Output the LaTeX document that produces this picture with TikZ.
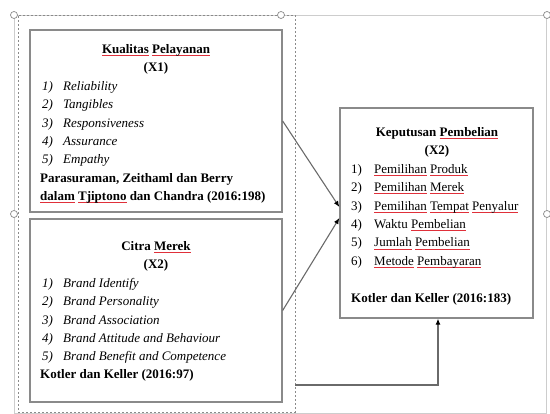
\documentclass[tikz,border=0pt]{standalone}
\usepackage{fontspec}
\setmainfont{Liberation Serif}
\usetikzlibrary{arrows.meta}
\definecolor{boxgray}{HTML}{8A8A8A}
\definecolor{framegray}{HTML}{CDCDCD}
\definecolor{conngray}{HTML}{6A6A6A}
\definecolor{spellred}{HTML}{E0303A}
\newsavebox\rwbox
\newcommand\rw[1]{\sbox\rwbox{#1}\rlap{\textcolor{spellred}{\rule[-2.6pt]{\wd\rwbox}{0.8pt}}}\usebox\rwbox}
\newcommand\itmA[2]{\makebox[21pt][l]{#1}#2}
\newcommand\itmB[2]{\makebox[23pt][l]{#1}#2}
\begin{document}
\begin{tikzpicture}[x=1pt,y=-1pt,
  outerframe/.style={draw=framegray,line width=0.8pt,minimum width=532pt,minimum height=398pt,inner sep=0pt},
  grpframe/.style={draw=boxgray,line width=0.8pt,dash pattern=on 2pt off 2pt,minimum width=277pt,minimum height=397pt,inner sep=0pt},
  boxnode/.style={draw=boxgray,line width=1.3pt,inner sep=0pt},
  conn/.style={draw=conngray,line width=1.1pt},
  tip/.style={-{Latex[length=6pt,width=5pt,color=black]}},
  handle/.style={circle,draw=boxgray,fill=white,line width=0.7pt,minimum size=7pt,inner sep=0pt},
  ttl/.style={anchor=base,inner sep=0pt,font=\fontsize{13}{15}\selectfont\bfseries},
  lineit/.style={anchor=base west,inner sep=0pt,font=\fontsize{13}{15}\selectfont\itshape},
  lineup/.style={anchor=base west,inner sep=0pt,font=\fontsize{13}{15}\selectfont},
  linebf/.style={anchor=base west,inner sep=0pt,font=\fontsize{13}{15}\selectfont\bfseries}]
\useasboundingbox (0,0) rectangle (550,414);
% frames
\node[outerframe] (outer) at (280.5,214) {};
\node[grpframe] (grp) at (156.5,213.5) {};
% boxes
\node[boxnode,minimum width=252pt,minimum height=182pt] (b1) at (156,121) {};
\node[boxnode,minimum width=252pt,minimum height=183pt] (b2) at (156,310.5) {};
\node[boxnode,minimum width=193pt,minimum height=210pt] (b3) at (436.5,213) {};
% box 1 text
\node[ttl] (t1) at (156,53.5) {\rw{Kualitas} \rw{Pelayanan}};
\node[ttl] (t1x) at (156,71.9) {(X1)};
\node[lineit] (a1) at (42,90.3) {\itmA{1)}{Reliability}};
\node[lineit] (a2) at (42,108.7) {\itmA{2)}{Tangibles}};
\node[lineit] (a3) at (42,127.1) {\itmA{3)}{Responsiveness}};
\node[lineit] (a4) at (42,145.5) {\itmA{4)}{Assurance}};
\node[lineit] (a5) at (42,163.9) {\itmA{5)}{Empathy}};
\node[linebf] (r1a) at (40,182.3) {Parasuraman, Zeithaml dan Berry};
\node[linebf] (r1b) at (40,200.7) {\rw{dalam} \rw{Tjiptono} dan Chandra (2016:198)};
% box 2 text
\node[ttl] (t2) at (156,250.5) {Citra \rw{Merek}};
\node[ttl] (t2x) at (156,268.9) {(X2)};
\node[lineit] (c1) at (42,287.3) {\itmA{1)}{Brand Identify}};
\node[lineit] (c2) at (42,305.7) {\itmA{2)}{Brand Personality}};
\node[lineit] (c3) at (42,324.1) {\itmA{3)}{Brand Association}};
\node[lineit] (c4) at (42,342.5) {\itmA{4)}{Brand Attitude and Behaviour}};
\node[lineit] (c5) at (42,360.9) {\itmA{5)}{Brand Benefit and Competence}};
\node[linebf] (r2) at (40,378.5) {Kotler dan Keller (2016:97)};
% box 3 text
\node[ttl] (t3) at (437,136.5) {Keputusan \rw{Pembelian}};
\node[ttl] (t3x) at (437,154.9) {(X2)};
\node[lineup] (k1) at (351,173.3) {\itmB{1)}{\rw{Pemilihan} \rw{Produk}}};
\node[lineup] (k2) at (351,191.7) {\itmB{2)}{\rw{Pemilihan} \rw{Merek}}};
\node[lineup] (k3) at (351,210.1) {\itmB{3)}{\rw{Pemilihan} \rw{Tempat} \rw{Penyalur}}};
\node[lineup] (k4) at (351,228.5) {\itmB{4)}{Waktu \rw{Pembelian}}};
\node[lineup] (k5) at (351,246.9) {\itmB{5)}{\rw{Jumlah} \rw{Pembelian}}};
\node[lineup] (k6) at (351,265.3) {\itmB{6)}{\rw{Metode} \rw{Pembayaran}}};
\node[linebf] (r3) at (351,302.1) {Kotler dan Keller (2016:183)};
% connectors
\draw[conn,tip] (b1.east) -- ([yshift=6pt]b3.west);
\draw[conn,tip] (b2.east) -- ([yshift=-5pt]b3.west);
\coordinate (cstart) at (295,385);
\draw[conn,tip] (cstart) -| ([xshift=1.5pt]b3.south);
% handles
\node[handle] (h1) at (14,15) {};
\node[handle] (h2) at (281,15) {};
\node[handle] (h3) at (547,15) {};
\node[handle] (h4) at (14,214) {};
\node[handle] (h5) at (547,214) {};
\end{tikzpicture}
\end{document}
